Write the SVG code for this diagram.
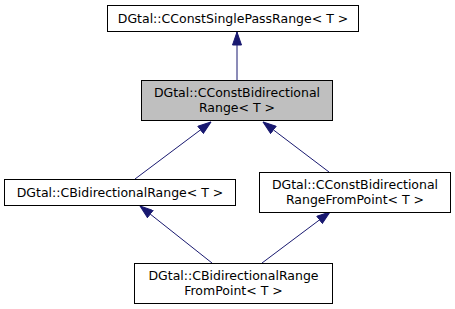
<svg xmlns="http://www.w3.org/2000/svg" width="455" height="309" viewBox="0 0 455 309">
  <style>
    .box { fill: #ffffff; stroke: #000000; stroke-width: 1; }
    .box.cur { fill: #bfbfbf; }
    .lbl { font-family: "DejaVu Sans", sans-serif; font-size: 12.5px; fill: #000000; text-anchor: middle; }
    .edge { stroke: #191970; stroke-width: 1; fill: none; }
  </style>
  <defs>
    <!-- filled inheritance arrowhead, tip at the end of the line -->
    <marker id="arr" viewBox="0 0 14 10" refX="13.5" refY="5" markerWidth="14" markerHeight="10" markerUnits="userSpaceOnUse" orient="auto">
      <path d="M0.5,0.5 L13.5,5 L0.5,9.5 z" fill="#191970" stroke="#191970"/>
    </marker>
  </defs>

  <g id="connectors">
    <line class="edge" x1="237" y1="80" x2="237" y2="32" marker-end="url(#arr)"/>
    <line class="edge" x1="135" y1="179" x2="211" y2="122" marker-end="url(#arr)"/>
    <line class="edge" x1="329" y1="172" x2="263" y2="122" marker-end="url(#arr)"/>
    <line class="edge" x1="212" y1="263" x2="140" y2="206" marker-end="url(#arr)"/>
    <line class="edge" x1="262" y1="263" x2="330" y2="212" marker-end="url(#arr)"/>
  </g>

  <g id="node-single-pass">
    <rect class="box" x="107.5" y="5.5" width="251" height="26"/>
    <text class="lbl" x="233" y="23">DGtal::CConstSinglePassRange&lt; T &gt;</text>
  </g>

  <g id="node-const-bidir">
    <rect class="box cur" x="141.5" y="80.5" width="191" height="40"/>
    <text class="lbl" x="237" y="97">DGtal::CConstBidirectional</text>
    <text class="lbl" x="237" y="112">Range&lt; T &gt;</text>
  </g>

  <g id="node-bidir">
    <rect class="box" x="4.5" y="179.5" width="231" height="26"/>
    <text class="lbl" x="120" y="197">DGtal::CBidirectionalRange&lt; T &gt;</text>
  </g>

  <g id="node-const-bidir-point">
    <rect class="box" x="259.5" y="172.5" width="191" height="40"/>
    <text class="lbl" x="355" y="189">DGtal::CConstBidirectional</text>
    <text class="lbl" x="355" y="204">RangeFromPoint&lt; T &gt;</text>
  </g>

  <g id="node-bidir-point">
    <rect class="box" x="134.5" y="263.5" width="198" height="40"/>
    <text class="lbl" x="233.5" y="280">DGtal::CBidirectionalRange</text>
    <text class="lbl" x="233.5" y="295">FromPoint&lt; T &gt;</text>
  </g>
</svg>
